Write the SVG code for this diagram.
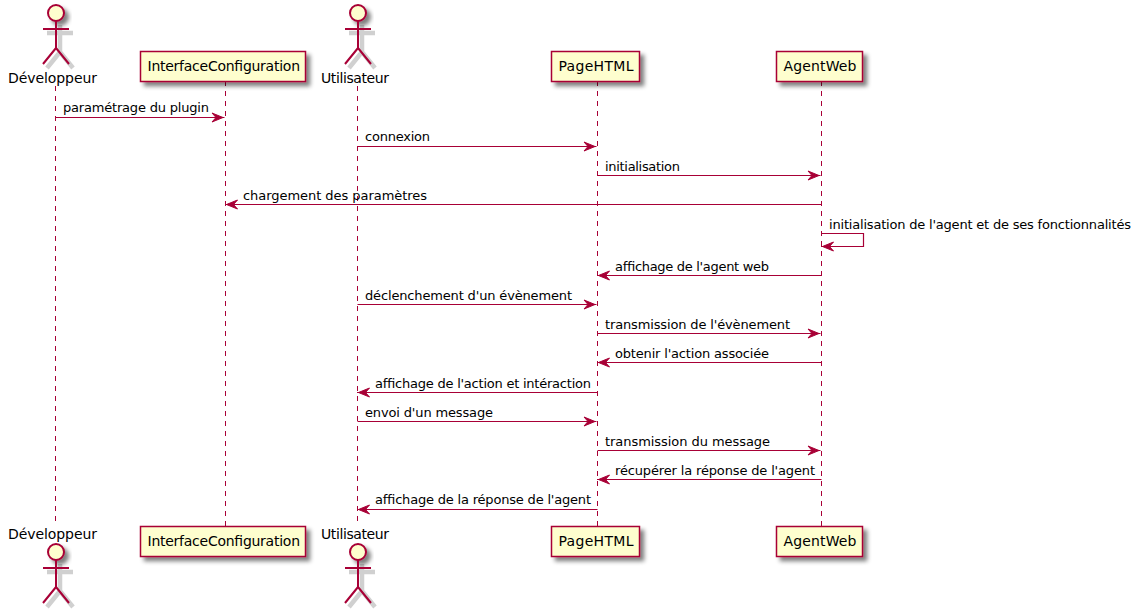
<svg xmlns="http://www.w3.org/2000/svg" width="1141" height="613" viewBox="0 0 1141 613">
<style>
text{font-family:"DejaVu Sans",sans-serif;fill:#000}
.m{font-size:13px}
.p{font-size:14px}
.life{stroke:#A80036;stroke-width:1;stroke-dasharray:5,5;fill:none}
.msg{stroke:#A80036;stroke-width:1.2;fill:none}
.box{fill:#FEFECE;stroke:#A80036;stroke-width:1.5;filter:url(#sh)}
.act{fill:#FEFECE;stroke:#A80036;stroke-width:2;filter:url(#sh)}
.actl{fill:none;stroke:#A80036;stroke-width:2}
.acts{fill:none;stroke:#d0d0d0;stroke-width:4.5}
</style>
<defs>
<filter id="sh" x="-50%" y="-50%" width="200%" height="200%">
<feGaussianBlur in="SourceAlpha" stdDeviation="2"/>
<feOffset dx="4" dy="4"/>
<feComponentTransfer><feFuncA type="linear" slope="0.5"/></feComponentTransfer>
<feMerge><feMergeNode/><feMergeNode in="SourceGraphic"/></feMerge>
</filter>
<marker id="r" markerUnits="userSpaceOnUse" markerWidth="16" markerHeight="14" refX="12.5" refY="4.5" orient="auto" overflow="visible">
<path d="M0,0 L11,4.5 L0,9 L4,4.5 Z" fill="#A80036" stroke="#A80036"/>
</marker>
<g id="actor">
<path class="acts" d="M4,12 V39 M-9,20 H17 M4,39 L-9,55 M4,39 L17,55"/>
<circle class="act" cx="0" cy="0" r="8"/>
<path class="actl" d="M0,8 V35 M-13,16 H13 M0,35 L-13,51 M0,35 L13,51"/>
</g>
</defs>
<g id="connectors">
<path class="life" d="M55.5,86 V526"/>
<path class="life" d="M225.5,81 V526"/>
<path class="life" d="M357.5,86 V526"/>
<path class="life" d="M597.5,81 V526"/>
<path class="life" d="M821.5,81 V526"/>
<path class="msg" marker-end="url(#r)" d="M55.5,117.5 H224.5"/>
<path class="msg" marker-end="url(#r)" d="M357.5,146.5 H596.5"/>
<path class="msg" marker-end="url(#r)" d="M597.5,175.5 H820.5"/>
<path class="msg" marker-end="url(#r)" d="M821.5,204.5 H225"/>
<path class="msg" marker-end="url(#r)" d="M821.5,233.5 H863.5 V246.5 H821"/>
<path class="msg" marker-end="url(#r)" d="M821.5,275.5 H597"/>
<path class="msg" marker-end="url(#r)" d="M357.5,304.5 H596.5"/>
<path class="msg" marker-end="url(#r)" d="M597.5,333.5 H820.5"/>
<path class="msg" marker-end="url(#r)" d="M821.5,362.5 H597"/>
<path class="msg" marker-end="url(#r)" d="M597.5,392.5 H357"/>
<path class="msg" marker-end="url(#r)" d="M357.5,421.5 H596.5"/>
<path class="msg" marker-end="url(#r)" d="M597.5,450.5 H820.5"/>
<path class="msg" marker-end="url(#r)" d="M821.5,479.5 H597"/>
<path class="msg" marker-end="url(#r)" d="M597.5,509.5 H357"/>
<text class="m" x="63" y="112" textLength="146">paramétrage du plugin</text>
<text class="m" x="365" y="141" textLength="65">connexion</text>
<text class="m" x="605" y="171" textLength="75">initialisation</text>
<text class="m" x="243" y="200" textLength="184">chargement des paramètres</text>
<text class="m" x="829" y="229" textLength="302">initialisation de l'agent et de ses fonctionnalités</text>
<text class="m" x="615" y="271" textLength="154">affichage de l'agent web</text>
<text class="m" x="365" y="300" textLength="207">déclenchement d'un évènement</text>
<text class="m" x="605" y="329" textLength="185">transmission de l'évènement</text>
<text class="m" x="615" y="358" textLength="154">obtenir l'action associée</text>
<text class="m" x="375" y="388" textLength="216">affichage de l'action et intéraction</text>
<text class="m" x="365" y="417" textLength="128">envoi d'un message</text>
<text class="m" x="605" y="446" textLength="165">transmission du message</text>
<text class="m" x="615" y="475" textLength="200">récupérer la réponse de l'agent</text>
<text class="m" x="375" y="504" textLength="216">affichage de la réponse de l'agent</text>
</g>
<g id="dev-top"><use href="#actor" x="56" y="13"/><text class="p" x="8" y="83" textLength="89">Développeur</text></g>
<g id="ic-top"><rect class="box" x="140.5" y="51.5" width="165" height="30"/><text class="p" x="147.5" y="71" textLength="152.5">InterfaceConfiguration</text></g>
<g id="util-top"><use href="#actor" x="358" y="13"/><text class="p" x="321" y="83" textLength="68">Utilisateur</text></g>
<g id="page-top"><rect class="box" x="551.5" y="51.5" width="88" height="30"/><text class="p" x="558.5" y="71" textLength="75">PageHTML</text></g>
<g id="agent-top"><rect class="box" x="776.5" y="51.5" width="86" height="30"/><text class="p" x="783.5" y="71" textLength="73">AgentWeb</text></g>
<g id="dev-bottom"><text class="p" x="8" y="539" textLength="89">Développeur</text><use href="#actor" x="56" y="552"/></g>
<g id="ic-bottom"><rect class="box" x="140.5" y="526.5" width="165" height="30"/><text class="p" x="147.5" y="546" textLength="152.5">InterfaceConfiguration</text></g>
<g id="util-bottom"><text class="p" x="321" y="539" textLength="68">Utilisateur</text><use href="#actor" x="358" y="552"/></g>
<g id="page-bottom"><rect class="box" x="551.5" y="526.5" width="88" height="30"/><text class="p" x="558.5" y="546" textLength="75">PageHTML</text></g>
<g id="agent-bottom"><rect class="box" x="776.5" y="526.5" width="86" height="30"/><text class="p" x="783.5" y="546" textLength="73">AgentWeb</text></g>
</svg>
